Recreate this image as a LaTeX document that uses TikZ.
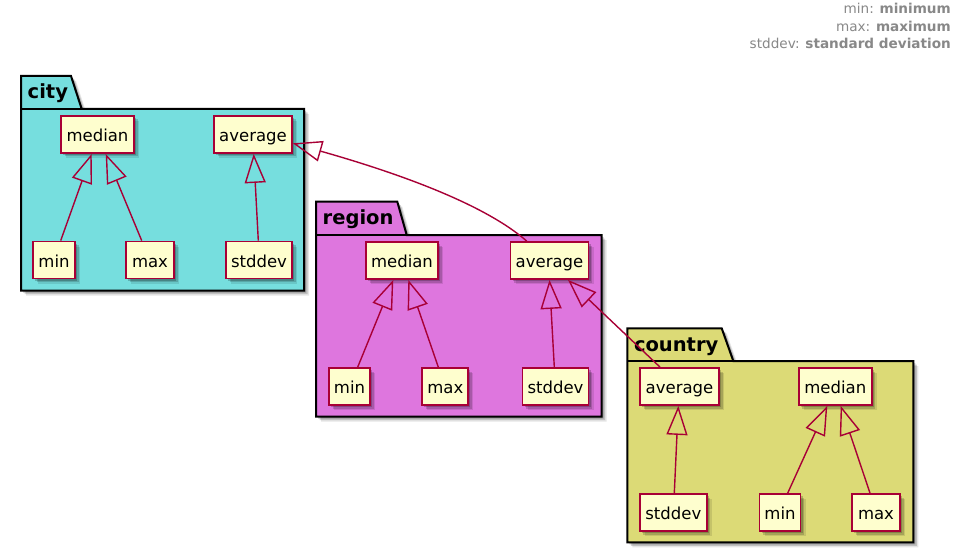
\documentclass[tikz,border=0pt]{standalone}
\usepackage{fontspec}
\setmainfont{DejaVu Sans}
\usetikzlibrary{arrows.meta,shadows,calc}
\definecolor{boxred}{HTML}{A80036}
\definecolor{boxfill}{HTML}{FEFECE}
\definecolor{cityc}{HTML}{76DEDE}
\definecolor{regionc}{HTML}{DE76DE}
\definecolor{countryc}{HTML}{DCDA76}
\definecolor{legendc}{HTML}{888888}
\tikzset{
  softshadow/.style={
    drop shadow={shadow xshift=2pt,shadow yshift=-2pt,opacity=0.2,fill=black},
    drop shadow={shadow xshift=3.5pt,shadow yshift=-3.5pt,opacity=0.16,fill=black},
    drop shadow={shadow xshift=5pt,shadow yshift=-5pt,opacity=0.1,fill=black}},
  cls/.style={draw=boxred,line width=1.8pt,fill=boxfill,minimum height=37pt,
    inner sep=0pt,text height=14.4pt,text depth=0pt,
    font=\fontsize{16.5}{19}\selectfont,text=black,softshadow},
  pkgshape/.style={draw=black,line width=2pt,softshadow},
  pkgline/.style={draw=black,line width=2pt},
  pkgtitle/.style={anchor=base west,inner sep=0pt,font=\bfseries\fontsize{19.5}{22}\selectfont},
  ext/.style={draw=boxred,line width=1.4pt,-{Triangle[open,length=29pt,width=21pt]}},
  legend/.style={align=right,text=legendc,font=\fontsize{13.6}{17.6}\selectfont,inner sep=0pt}
}
\newcommand\umlpkg[8]{%
  \path[pkgshape,fill=#1c] (#2,#6) -- (#2,#3) -- (#4,#3) -- (#5,#6) -- (#7,#6) -- (#7,#8) -- (#2,#8) -- cycle;
  \draw[pkgline] (#2,#6) -- (#5,#6);
  \node[pkgtitle] (#1title) at (#2+6.5,#6-10) {#1};
}
\begin{document}
\begin{tikzpicture}[x=1pt,y=-1pt]
\useasboundingbox[fill=white] (0,0) rectangle (967,559);

\node[legend,anchor=north east] (legend) at (951,3)
  {min: \textbf{minimum}\\max: \textbf{maximum}\\stddev: \textbf{standard deviation}};

% packages
\umlpkg{city}{21}{76}{71}{81.7}{109}{304}{290.7}
\umlpkg{region}{316}{201.7}{397.3}{406.7}{235}{601.7}{416.7}
\umlpkg{country}{627.3}{328.3}{721.7}{733.3}{361}{913.3}{542.3}

% city
\node[cls,minimum width=73pt] (cmed) at (97.5,134.5) {median};
\node[cls,minimum width=78pt] (cavg) at (253,134.5) {average};
\node[cls,minimum width=42pt] (cmin) at (54,260) {min};
\node[cls,minimum width=48pt] (cmax) at (150,260) {max};
\node[cls,minimum width=66pt] (cstd) at (259,260) {stddev};

% region
\node[cls,minimum width=72pt] (rmed) at (402,260.5) {median};
\node[cls,minimum width=78pt] (ravg) at (549.5,260.5) {average};
\node[cls,minimum width=41pt] (rmin) at (349.5,386.5) {min};
\node[cls,minimum width=46pt] (rmax) at (445.3,386.5) {max};
\node[cls,minimum width=66pt] (rstd) at (555.5,386.5) {stddev};

% country
\node[cls,minimum width=79pt] (kavg) at (679.5,386.5) {average};
\node[cls,minimum width=73pt] (kmed) at (835.3,386.5) {median};
\node[cls,minimum width=67pt] (kstd) at (673.3,512.5) {stddev};
\node[cls,minimum width=41pt] (kmin) at (780,512.5) {min};
\node[cls,minimum width=48pt] (kmax) at (876,512.5) {max};

% city edges
\draw[ext] ($(cmin.north)+(6.7,0)$) -- ($(cmed.south)+(-5.8,0)$);
\draw[ext] ($(cmax.north)+(-8.3,0)$) -- ($(cmed.south)+(8.2,0)$);
\draw[ext] ($(cstd.north)+(-0.7,0)$) -- ($(cavg.south)+(0.7,0)$);

% region edges
\draw[ext] ($(rmin.north)+(8.2,0)$) -- ($(rmed.south)+(-8.7,0)$);
\draw[ext] ($(rmax.north)+(-7,0)$) -- ($(rmed.south)+(6.3,0)$);
\draw[ext] ($(rstd.north)+(-1.2,0)$) -- ($(ravg.south)+(0,0)$);

% country edges
\draw[ext] ($(kstd.north)+(1,0)$) -- ($(kavg.south)+(-1.2,0)$);
\draw[ext] ($(kmin.north)+(7.7,0)$) -- ($(kmed.south)+(-8,0)$);
\draw[ext] ($(kmax.north)+(-6,0)$) -- ($(kmed.south)+(5.4,0)$);

% cross-package edges
\draw[ext] ($(kavg.north)+(-19.5,0)$) -- ($(ravg.south)+(18.5,0)$);
\draw[ext] ($(ravg.north)+(-22.8,0)$) .. controls (480,200) and (380,168) .. ($(cavg.east)+(0,8.8)$);
\end{tikzpicture}
\end{document}
